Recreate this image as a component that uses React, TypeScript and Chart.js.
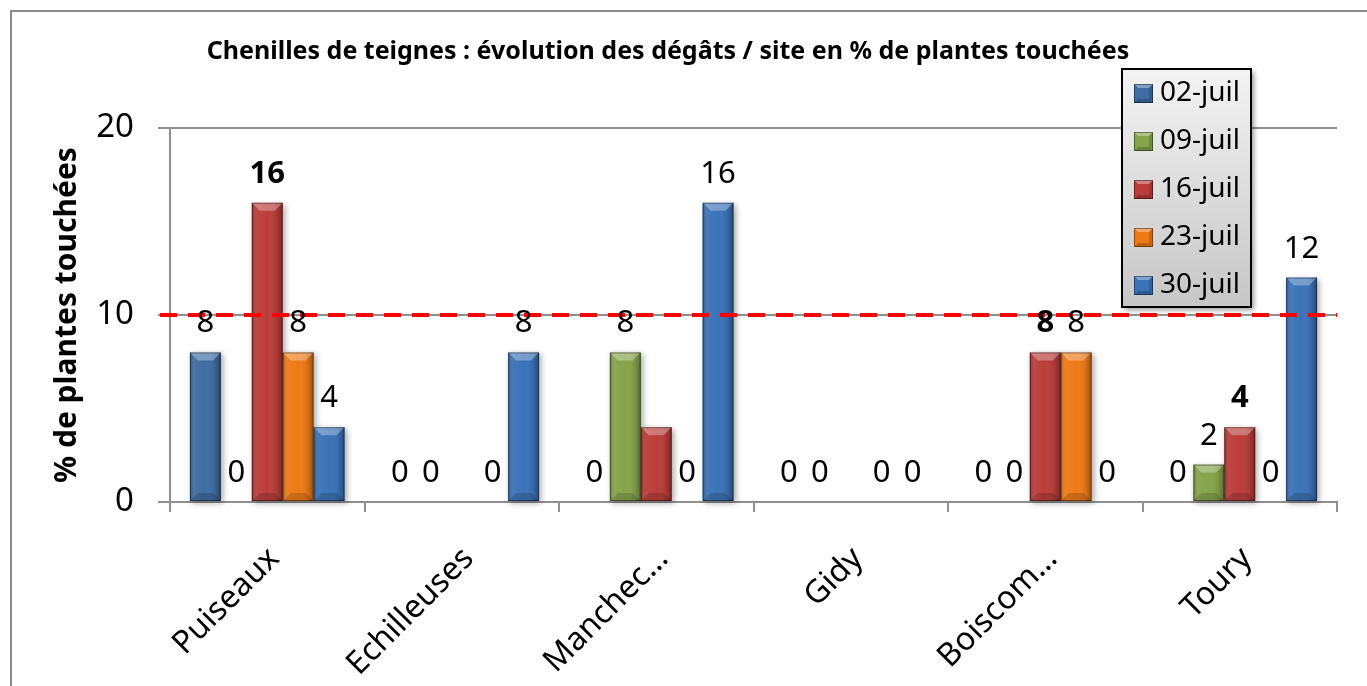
import { useEffect, useRef } from 'react';
import { Chart, registerables } from 'chart.js';

Chart.register(...registerables);

const TITLE = 'Chenilles de teignes : évolution des dégâts / site en % de plantes touchées';
const Y_TITLE = '% de plantes touchées';
const SITES = ['Puiseaux', 'Echilleuses', 'Manchec…', 'Gidy', 'Boiscom…', 'Toury'];
const SERIES = ['02-juil', '09-juil', '16-juil', '23-juil', '30-juil'];
const V_02 = [8, 0, 0, 0, 0, 0];
const V_09 = [0, 0, 8, 0, 0, 2];
const V_16 = [16, null, 4, null, 8, 4];
const V_23 = [8, 0, 0, 0, 8, 0];
const V_30 = [4, 8, 16, 0, 0, 12];
// which value labels are displayed (16-juil labels are partly removed and bold)
const SHOW_16 = [true, false, false, false, true, true];
const Y_MIN = 0;
const Y_MAX = 20;
const Y_STEP = 10;
const THRESHOLD = 10;

const COLORS = ['#3F6CA3', '#86A44A', '#BA3D39', '#EE7A16', '#3A72B8'];
const VALUES = [V_02, V_09, V_16, V_23, V_30];
const FONT = "'Noto Sans', 'DejaVu Sans', sans-serif";
const GRID = '#8f8f8f';

const framePlugin = {
  id: 'frame',
  beforeDraw(chart: any) {
    const ctx = chart.ctx;
    ctx.save();
    ctx.fillStyle = '#ffffff';
    ctx.fillRect(0, 0, chart.width, chart.height);
    ctx.strokeStyle = '#8a8a8a';
    ctx.lineWidth = 2;
    ctx.beginPath();
    ctx.moveTo(11, chart.height);
    ctx.lineTo(11, 11);
    ctx.lineTo(chart.width, 11);
    ctx.stroke();
    ctx.restore();
  },
};

function barRects(chart: any, cb: (l: number, t: number, w: number, h: number, di: number, i: number, el: any) => void) {
  chart.data.datasets.forEach((_ds: any, di: number) => {
    const meta = chart.getDatasetMeta(di);
    meta.data.forEach((el: any, i: number) => {
      const { x, y, base, width } = el.getProps(['x', 'y', 'base', 'width'], true);
      cb(x - width / 2, y, width, base - y, di, i, el);
    });
  });
}

const bevelPlugin = {
  id: 'bevel',
  beforeDatasetsDraw(chart: any) {
    const ctx = chart.ctx;
    ctx.save();
    barRects(chart, (l, t, w, h) => {
      if (!(h > 1)) return;
      ctx.shadowColor = 'rgba(0,0,0,0.35)';
      ctx.shadowBlur = 6;
      ctx.shadowOffsetX = 2;
      ctx.shadowOffsetY = 2;
      ctx.fillStyle = '#ffffff';
      ctx.fillRect(l, t, w, h);
    });
    ctx.restore();
  },
  afterDatasetsDraw(chart: any) {
    const ctx = chart.ctx;
    barRects(chart, (l, t, w, h) => {
      if (!(h > 1)) return;
      const r = l + w;
      const b = Math.min(8, h / 2, w / 3);
      ctx.save();
      const g = ctx.createLinearGradient(l, 0, r, 0);
      g.addColorStop(0, 'rgba(0,0,0,0.24)');
      g.addColorStop(0.18, 'rgba(255,255,255,0.05)');
      g.addColorStop(0.5, 'rgba(255,255,255,0.0)');
      g.addColorStop(0.82, 'rgba(0,0,0,0.1)');
      g.addColorStop(1, 'rgba(0,0,0,0.35)');
      ctx.fillStyle = g;
      ctx.fillRect(l, t, w, h);
      ctx.beginPath();
      ctx.moveTo(l, t);
      ctx.lineTo(r, t);
      ctx.lineTo(r - b, t + b);
      ctx.lineTo(l + b, t + b);
      ctx.closePath();
      ctx.fillStyle = 'rgba(255,255,255,0.3)';
      ctx.fill();
      ctx.beginPath();
      ctx.moveTo(l, t + h);
      ctx.lineTo(r, t + h);
      ctx.lineTo(r - b, t + h - b);
      ctx.lineTo(l + b, t + h - b);
      ctx.closePath();
      ctx.fillStyle = 'rgba(0,0,0,0.15)';
      ctx.fill();
      ctx.strokeStyle = 'rgba(0,0,0,0.4)';
      ctx.lineWidth = 1;
      ctx.strokeRect(l + 0.5, t + 0.5, w - 1, h - 1);
      ctx.restore();
    });
    // threshold line, limited to the plot area
    const area = chart.chartArea;
    const yy = chart.scales.y.getPixelForValue(THRESHOLD);
    ctx.save();
    ctx.beginPath();
    ctx.rect(area.left - 12, area.top, area.right - area.left + 12, area.bottom - area.top);
    ctx.clip();
    ctx.strokeStyle = '#ff0000';
    ctx.lineWidth = 4;
    ctx.setLineDash([17, 11]);
    ctx.beginPath();
    ctx.moveTo(area.left - 10, yy);
    ctx.lineTo(area.right, yy);
    ctx.stroke();
    ctx.restore();
  },
};

const labelsPlugin = {
  id: 'valueLabels',
  afterDraw(chart: any) {
    const ctx = chart.ctx;
    ctx.save();
    ctx.fillStyle = '#000';
    ctx.textAlign = 'center';
    ctx.textBaseline = 'alphabetic';
    barRects(chart, (_l, t, _w, _h, di, i, el) => {
      const v = chart.data.datasets[di].data[i];
      if (v === null || v === undefined) return;
      const bold = di === 2;
      if (bold && !SHOW_16[i]) return;
      ctx.font = `${bold ? 'bold ' : ''}31px ${FONT}`;
      ctx.fillText(String(v), el.x, t - 20);
    });
    ctx.font = `bold 25px ${FONT}`;
    ctx.textBaseline = 'middle';
    ctx.fillText(TITLE, 668, 52);
    ctx.restore();
  },
};

function bevelSquare(ctx: CanvasRenderingContext2D, x: number, y: number, s: number, color: string) {
  ctx.fillStyle = color;
  ctx.fillRect(x, y, s, s);
  const b = 4;
  ctx.beginPath();
  ctx.moveTo(x, y); ctx.lineTo(x + s, y); ctx.lineTo(x + s - b, y + b); ctx.lineTo(x + b, y + b); ctx.closePath();
  ctx.fillStyle = 'rgba(255,255,255,0.35)';
  ctx.fill();
  ctx.beginPath();
  ctx.moveTo(x, y + s); ctx.lineTo(x + s, y + s); ctx.lineTo(x + s - b, y + s - b); ctx.lineTo(x + b, y + s - b); ctx.closePath();
  ctx.fillStyle = 'rgba(0,0,0,0.2)';
  ctx.fill();
  ctx.beginPath();
  ctx.moveTo(x + s, y); ctx.lineTo(x + s, y + s); ctx.lineTo(x + s - b, y + s - b); ctx.lineTo(x + s - b, y + b); ctx.closePath();
  ctx.fillStyle = 'rgba(0,0,0,0.15)';
  ctx.fill();
  ctx.strokeStyle = 'rgba(0,0,0,0.4)';
  ctx.lineWidth = 1;
  ctx.strokeRect(x + 0.5, y + 0.5, s - 1, s - 1);
}

const legendPlugin = {
  id: 'boxLegend',
  afterDraw(chart: any) {
    const ctx = chart.ctx;
    const L = 1122, T = 69, W = 129, H = 238;
    ctx.save();
    ctx.shadowColor = 'rgba(0,0,0,0.4)';
    ctx.shadowBlur = 5;
    ctx.shadowOffsetX = 3;
    ctx.shadowOffsetY = 3;
    const g = ctx.createLinearGradient(0, T, 0, T + H);
    g.addColorStop(0, '#f3f3f3');
    g.addColorStop(1, '#c6c6c6');
    ctx.fillStyle = g;
    ctx.fillRect(L, T, W, H);
    ctx.shadowColor = 'transparent';
    ctx.strokeStyle = '#000';
    ctx.lineWidth = 2;
    ctx.strokeRect(L, T, W, H);
    ctx.font = `28px ${FONT}`;
    ctx.textBaseline = 'middle';
    ctx.textAlign = 'left';
    chart.data.datasets.forEach((ds: any, i: number) => {
      const cy = T + 24 + i * 48;
      bevelSquare(ctx, L + 12, cy - 9, 19, ds.backgroundColor);
      ctx.fillStyle = '#000';
      ctx.fillText(ds.label, L + 38, cy);
    });
    ctx.restore();
  },
};

export default function App() {
  const ref = useRef<HTMLCanvasElement>(null);
  useEffect(() => {
    if (!ref.current) return;
    const chart = new Chart(ref.current, {
      type: 'bar',
      data: {
        labels: SITES,
        datasets: SERIES.map((s, i) => ({
          label: s,
          data: VALUES[i],
          backgroundColor: COLORS[i],
          borderWidth: 0,
          categoryPercentage: 0.795,
          barPercentage: 1,
        })),
      },
      options: {
        animation: false,
        responsive: false,
        layout: { padding: { left: 0, top: 128, right: 30, bottom: 0 } },
        plugins: {
          legend: { display: false },
          title: { display: false },
          tooltip: { enabled: false },
        },
        scales: {
          x: {
            offset: true,
            grid: {
              display: true,
              drawOnChartArea: false,
              drawTicks: true,
              tickLength: 10,
              color: GRID,
              lineWidth: 2,
              offset: true,
            },
            border: { display: true, color: GRID, width: 2 },
            ticks: {
              autoSkip: false,
              minRotation: 45,
              maxRotation: 45,
              color: '#000',
              font: { family: FONT, size: 32 },
              padding: 28,
              labelOffset: 7,
            },
            afterFit: (s: any) => {
              s.height = 184;
            },
          },
          y: {
            min: Y_MIN,
            max: Y_MAX,
            ticks: {
              stepSize: Y_STEP,
              color: '#000',
              font: { family: FONT, size: 33 },
              padding: 24,
            },
            grid: { color: GRID, lineWidth: 2, tickLength: 12, drawTicks: true },
            border: { display: true, color: GRID, width: 2 },
            title: {
              display: true,
              text: Y_TITLE,
              color: '#000',
              font: { family: FONT, size: 30, weight: 'bold' },
              padding: { top: 49, bottom: 0 },
            },
            afterFit: (s: any) => {
              s.width = 170;
            },
          },
        },
      },
      plugins: [framePlugin, bevelPlugin, labelsPlugin, legendPlugin],
    } as any);
    return () => chart.destroy();
  }, []);
  return (
    <div style={{ position: 'fixed', left: 0, top: 0, width: 1367, height: 686, background: '#fff' }}>
      <canvas ref={ref} width={1367} height={686} style={{ display: 'block' }} />
    </div>
  );
}
